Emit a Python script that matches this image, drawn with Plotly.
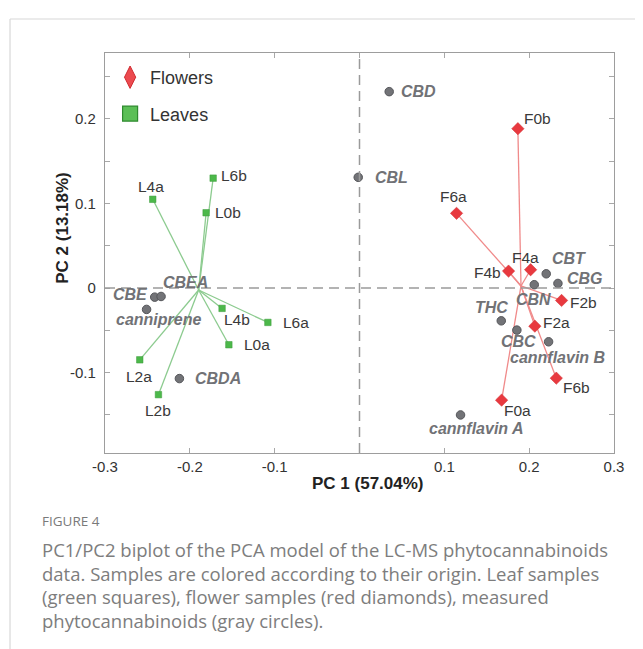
import plotly.graph_objects as go

# ---- data ----
leaf_names = ["L6b", "L4a", "L0b", "L4b", "L6a", "L0a", "L2a", "L2b"]
leaf_pc1 = [-0.1725, -0.2437, -0.1808, -0.162, -0.108, -0.154, -0.259, -0.237]
leaf_pc2 = [0.130, 0.105, 0.0891, -0.024, -0.0406, -0.067, -0.0848, -0.126]

flower_names = ["F0b", "F6a", "F4b", "F4a", "F2b", "F2a", "F6b", "F0a"]
flower_pc1 = [0.1867, 0.1144, 0.1757, 0.2017, 0.2382, 0.2067, 0.232, 0.1675]
flower_pc2 = [0.1885, 0.0884, 0.0201, 0.0217, -0.0146, -0.045, -0.1065, -0.1325]

comp_names = ["CBE", "CBEA", "canniprene", "CBDA", "CBL", "CBD", "CBT", "CBG",
              "CBN", "THC", "CBC", "cannflavin B", "cannflavin A"]
comp_pc1 = [-0.2414, -0.2339, -0.251, -0.2123, -0.0015, 0.035, 0.2201, 0.2339,
            0.206, 0.1671, 0.1855, 0.2229, 0.1191]
comp_pc2 = [-0.0107, -0.0099, -0.0252, -0.107, 0.131, 0.2323, 0.0169, 0.0055,
            0.004, -0.0387, -0.0497, -0.0635, -0.150]

x_ticks = [-0.3, -0.2, -0.1, 0, 0.1, 0.2, 0.3]
x_tick_text = ["-0.3", "-0.2", "-0.1", "", "0.1", "0.2", "0.3"]
y_ticks = [-0.1, 0, 0.1, 0.2]
y_tick_text = ["-0.1", "0", "0.1", "0.2"]

# ---- label placement styles (pixel offsets) ----
leaf_lab = {  # xanchor, xshift, yshift
    "L6b": ("left", 6, 3), "L4a": ("center", -2, 13), "L0b": ("left", 7, 0),
    "L4b": ("left", 0, -11), "L6a": ("left", 13, 0), "L0a": ("left", 13, 0),
    "L2a": ("center", -1, -17), "L2b": ("center", 0, -16)}
flower_lab = {
    "F0b": ("left", 4, 10), "F6a": ("center", -3, 17), "F4b": ("right", -6, -1),
    "F4a": ("center", -5, 12), "F2b": ("left", 6, -2), "F2a": ("left", 6, 4),
    "F6b": ("left", 5, -9), "F0a": ("left", 0, -10)}
comp_lab = {
    "CBE": ("right", -5, 3), "CBEA": ("left", 0, 14), "canniprene": ("center", 12, -10),
    "CBDA": ("left", 14, 0), "CBL": ("left", 15, 0), "CBD": ("left", 10, 0),
    "CBT": ("left", 4, 15), "CBG": ("left", 7, 5), "CBN": ("center", -1, -15),
    "THC": ("center", -10, 13), "CBC": ("center", 2, -11),
    "cannflavin B": ("center", 9, -16), "cannflavin A": ("center", 16, -14)}

RED = "#e8393f"
GREEN = "#4cb84a"
GRAY = "#727377"
RED_LINE = "#f08a8a"
GREEN_LINE = "#8ccb8f"
FONT = "Liberation Sans, Arial, sans-serif"

fig = go.Figure()

# spokes from group centroid
def spokes(xs, ys, color):
    cx = sum(xs) / len(xs)
    cy = sum(ys) / len(ys)
    lx, ly = [], []
    for x, y in zip(xs, ys):
        lx += [cx, x, None]
        ly += [cy, y, None]
    fig.add_trace(go.Scatter(x=lx, y=ly, mode="lines", line=dict(color=color, width=1.3),
                             showlegend=False, hoverinfo="skip"))

spokes(leaf_pc1, leaf_pc2, GREEN_LINE)
spokes(flower_pc1, flower_pc2, RED_LINE)

fig.add_trace(go.Scatter(x=comp_pc1, y=comp_pc2, mode="markers", showlegend=False,
                         marker=dict(symbol="circle", size=8.5, color=GRAY,
                                     line=dict(color="#55565a", width=1))))
fig.add_trace(go.Scatter(x=leaf_pc1, y=leaf_pc2, mode="markers", showlegend=False,
                         marker=dict(symbol="square", size=6.5, color=GREEN,
                                     line=dict(color="#3c9a3c", width=0.5))))
fig.add_trace(go.Scatter(x=flower_pc1, y=flower_pc2, mode="markers", showlegend=False,
                         marker=dict(symbol="diamond", size=9.5, color=RED,
                                     line=dict(color="#d02a2f", width=0.5))))

# legend entries
fig.add_trace(go.Scatter(x=[None], y=[None], mode="markers", name="Flowers", legendgroup="a",
                         marker=dict(symbol="diamond-tall", size=16, color="#ec4a4f",
                                     line=dict(color="#d02a2f", width=1))))
fig.add_trace(go.Scatter(x=[None], y=[None], mode="markers", name="Leaves", legendgroup="b",
                         marker=dict(symbol="square", size=15, color="#5bbf56",
                                     line=dict(color="#2f8a2f", width=1.2))))

anns = []
def add_labels(names, xs, ys, styles, comp=False):
    for n, x, y in zip(names, xs, ys):
        xa, dx, dy = styles[n]
        anns.append(dict(x=x, y=y, xref="x", yref="y", text=("<b><i>%s</i></b>" % n) if comp else n,
                         showarrow=False, xanchor=xa, yanchor="middle", xshift=dx, yshift=dy,
                         font=dict(family=FONT, size=16 if comp else 15.5,
                                   color="#717276" if comp else "#3a3a3a")))

add_labels(leaf_names, leaf_pc1, leaf_pc2, leaf_lab)
add_labels(flower_names, flower_pc1, flower_pc2, flower_lab)
add_labels(comp_names, comp_pc1, comp_pc2, comp_lab, comp=True)

# axis titles
anns.append(dict(x=0.5, y=-0.075, xref="paper", yref="paper", text="<b>PC 1 (57.04%)</b>",
                 showarrow=False, xanchor="center", yanchor="middle", xshift=8,
                 font=dict(family=FONT, size=17, color="#222")))
anns.append(dict(x=-0.085, y=0.5625, xref="paper", yref="paper", text="<b>PC 2 (13.18%)</b>",
                 showarrow=False, textangle=-90, xanchor="center", yanchor="middle",
                 font=dict(family=FONT, size=17, color="#222")))

# caption
CAP = "Open Sans, Lato, sans-serif"
anns.append(dict(x=-0.1277, y=-0.17, xref="paper", yref="paper", text="FIGURE 4",
                 showarrow=False, xanchor="left", yanchor="middle",
                 font=dict(family=CAP, size=13.5, color="#7a7a7a")))
cap_lines = ["PC1/PC2 biplot of the PCA model of the LC-MS phytocannabinoids",
             "data. Samples are colored according to their origin. Leaf samples",
             "(green squares), flower samples (red diamonds), measured",
             "phytocannabinoids (gray circles)."]
for i, t in enumerate(cap_lines):
    anns.append(dict(x=-0.1277, y=-0.242 - i * 0.0587, xref="paper", yref="paper", text=t,
                     showarrow=False, xanchor="left", yanchor="middle",
                     font=dict(family=CAP, size=18.5, color="#7d7d7d")))

AX = dict(showline=True, linecolor="#9d9d9d", linewidth=1.2, showgrid=False, zeroline=False,
          tickcolor="#a8a8a8", ticks="inside", ticklen=5)

fig.update_layout(
    width=643, height=649,
    margin=dict(l=97, r=37, t=45, b=204),
    paper_bgcolor="white", plot_bgcolor="white",
    annotations=anns,
    showlegend=True,
    legend=dict(x=0.01, y=0.985, xanchor="left", yanchor="top", bgcolor="rgba(0,0,0,0)",
                font=dict(family=FONT, size=18, color="#333"), tracegroupgap=10,
                itemsizing="trace"),
    xaxis=dict(range=[-0.3, 0.3], tickvals=x_ticks, ticktext=x_tick_text,
               ticklabelstandoff=0, tickfont=dict(family=FONT, size=15, color="#333"), **AX),
    xaxis2=dict(range=[-0.3, 0.3], overlaying="x", side="top", tickvals=x_ticks,
                showticklabels=False, matches="x", **AX),
    yaxis=dict(range=[-0.195, 0.278], tickvals=y_ticks, ticktext=y_tick_text,
               ticklabelstandoff=5, tickfont=dict(family=FONT, size=15, color="#333"),
               minor=dict(dtick=0.05, tick0=0, ticks="inside", ticklen=5, tickcolor="#a8a8a8"),
               **AX),
    yaxis2=dict(range=[-0.195, 0.278], overlaying="y", side="right", dtick=0.05, tick0=0,
                showticklabels=False, matches="y", **AX),
    shapes=[
        dict(type="line", xref="x", yref="paper", x0=0, x1=0, y0=0, y1=1,
             line=dict(color="#9a9a9a", width=1.5, dash="10px,6px")),
        dict(type="line", xref="paper", yref="y", x0=0, x1=1, y0=0, y1=0,
             line=dict(color="#9a9a9a", width=1.5, dash="10px,6px")),
        dict(type="line", xref="paper", yref="paper", x0=-0.1866, x1=1.08, y0=1.085, y1=1.085,
             line=dict(color="#d8d8d8", width=1.2)),
        dict(type="line", xref="paper", yref="paper", x0=-0.1866, x1=-0.1866, y0=1.085, y1=-0.5,
             line=dict(color="#d8d8d8", width=1.2)),
    ],
)
# dummy trace to activate the mirror axes
fig.add_trace(go.Scatter(x=[None], y=[None], xaxis="x2", yaxis="y2", showlegend=False))

fig.write_html("out.html")
